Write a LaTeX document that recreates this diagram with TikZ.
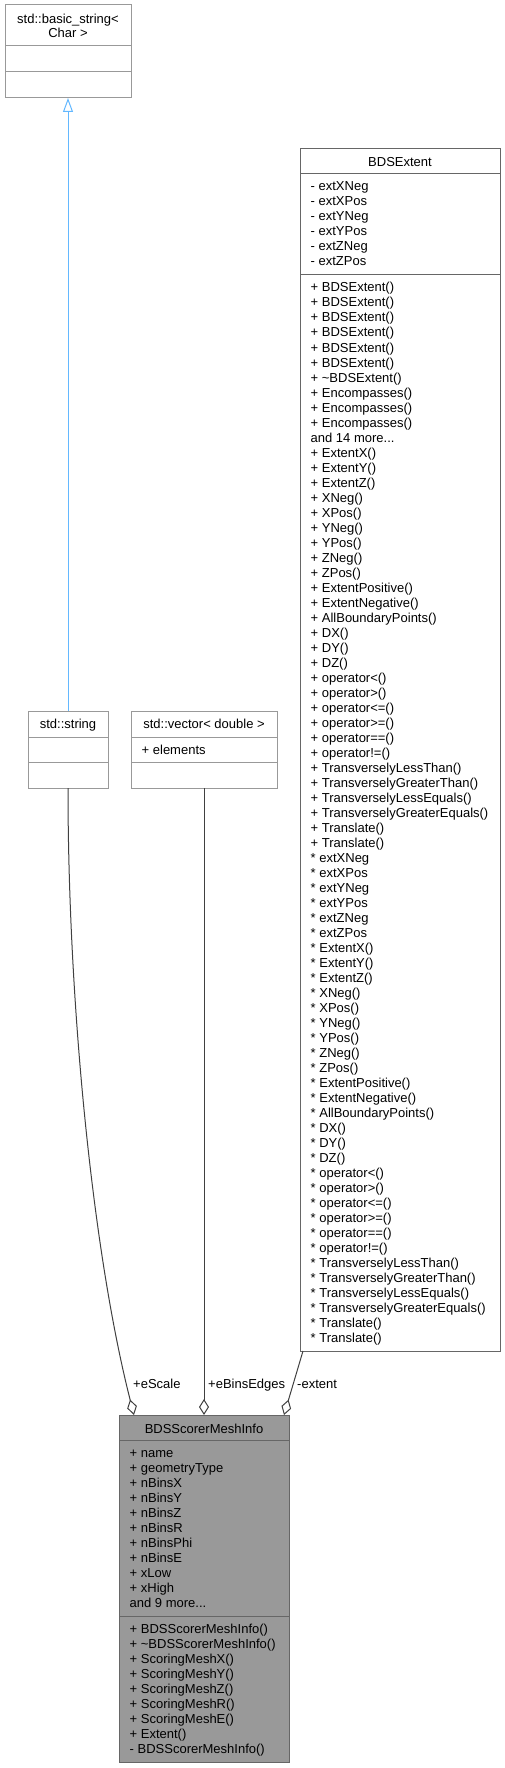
\documentclass[tikz,border=0pt]{standalone}
\usepackage{fontspec}
\setmainfont{Liberation Sans}
\usetikzlibrary{arrows.meta}
\definecolor{rahmen}{HTML}{666666}
\definecolor{rahmenhell}{HTML}{999999}
\definecolor{hauptfill}{HTML}{999999}
\definecolor{kante}{HTML}{404040}
\definecolor{erbe}{HTML}{63B8FF}
\tikzset{
	klasse/.style={draw=rahmen, fill=white, line width=1pt, inner sep=0pt,
	outer sep=0pt, anchor=north west},
	fremd/.style={klasse, draw=rahmenhell},
	haupt/.style={klasse, fill=hauptfill},
	zeile/.style={inner sep=0pt, anchor=base west},
	titel/.style={inner sep=0pt, anchor=base},
	trenner/.style={line width=1pt},
	aggregation/.style={draw=kante, line width=1pt,
	-{Diamond[length=16pt, width=10pt, fill=white]}},
	vererbung/.style={draw=erbe, line width=1pt,
	-{Triangle[length=14pt, width=10pt, fill=white]}}
}
\begin{document}
\begin{tikzpicture}[x=1pt, y=-1pt, font=\fontsize{13}{15}\selectfont]
	\useasboundingbox (0,0) rectangle (505,1768);

	% Basisklasse oben
	\node[fremd, minimum width=126pt, minimum height=93pt] (basis) at (5,5) {};
	\draw[trenner, rahmenhell] (5,46) -- (131,46);
	\draw[trenner, rahmenhell] (5,72) -- (131,72);
	\node[titel] (basis-t1) at (68,23.5) {std::basic\_string<};
	\node[titel] (basis-t2) at (68,38) {Char >};

	% std::string
	\node[fremd, minimum width=80pt, minimum height=77pt] (string) at (28,711) {};
	\draw[trenner, rahmenhell] (28,737) -- (108,737);
	\draw[trenner, rahmenhell] (28,762) -- (108,762);
	\node[titel] (string-t) at (68,728.5) {std::string};

	% std::vector
	\node[fremd, minimum width=146pt, minimum height=77pt] (vektor) at (131,711) {};
	\draw[trenner, rahmenhell] (131,737) -- (277,737);
	\draw[trenner, rahmenhell] (131,762) -- (277,762);
	\node[titel] (vektor-t) at (204,728.5) {std::vector< double >};
	\node[zeile] (vektor-a0) at (141.5,754.5) {+ elements};

	% BDSExtent
	\node[klasse, minimum width=200pt, minimum height=1202pt] (extent) at (300,149) {};
	\draw[trenner, rahmen] (300,174) -- (500,174);
	\draw[trenner, rahmen] (300,275) -- (500,275);
	\node[titel] (extent-t) at (400,167) {BDSExtent};
	% Attribute
	\foreach \eintrag [count=\i from 0] in {- extXNeg, - extXPos, - extYNeg,
		- extYPos, - extZNeg, - extZPos}
		\node[zeile] (extent-a\i) at (310.5,191+15*\i) {\eintrag};
	% Methoden
	\foreach \eintrag [count=\i from 0] in {+ BDSExtent(), + BDSExtent(),
		+ BDSExtent(), + BDSExtent(), + BDSExtent(), + BDSExtent(),
		+ \textasciitilde BDSExtent(), + Encompasses(), + Encompasses(),
		+ Encompasses(), {and 14 more.{}.{}.}, + ExtentX(), + ExtentY(), + ExtentZ(),
		+ XNeg(), + XPos(), + YNeg(), + YPos(), + ZNeg(), + ZPos(),
		+ ExtentPositive(), + ExtentNegative(), + AllBoundaryPoints(), + DX(),
		+ DY(), + DZ(), + operator<(), + operator>(), + operator<=(),
		+ operator>=(), + operator==(), + operator!=(),
		+ TransverselyLessThan(), + TransverselyGreaterThan(),
		+ TransverselyLessEquals(), + TransverselyGreaterEquals(),
		+ Translate(), + Translate(), * extXNeg, * extXPos, * extYNeg,
		* extYPos, * extZNeg, * extZPos, * ExtentX(), * ExtentY(), * ExtentZ(),
		* XNeg(), * XPos(), * YNeg(), * YPos(), * ZNeg(), * ZPos(),
		* ExtentPositive(), * ExtentNegative(), * AllBoundaryPoints(), * DX(),
		* DY(), * DZ(), * operator<(), * operator>(), * operator<=(),
		* operator>=(), * operator==(), * operator!=(),
		* TransverselyLessThan(), * TransverselyGreaterThan(),
		* TransverselyLessEquals(), * TransverselyGreaterEquals(),
		* Translate(), * Translate()}
		\node[zeile] (extent-m\i) at (310.5,292+15*\i) {\eintrag};

	% BDSScorerMeshInfo
	\node[haupt, minimum width=170pt, minimum height=347pt] (mesh) at (119,1415) {};
	\draw[trenner, rahmen] (119,1440) -- (289,1440);
	\draw[trenner, rahmen] (119,1616) -- (289,1616);
	\node[titel] (mesh-t) at (204,1433) {BDSScorerMeshInfo};
	% Attribute
	\foreach \eintrag [count=\i from 0] in {+ name, + geometryType, + nBinsX,
		+ nBinsY, + nBinsZ, + nBinsR, + nBinsPhi, + nBinsE, + xLow, + xHigh,
		{and 9 more.{}.{}.}}
		\node[zeile] (mesh-a\i) at (129.5,1457.5+15*\i) {\eintrag};
	% Methoden
	\foreach \eintrag [count=\i from 0] in {+ BDSScorerMeshInfo(),
		+ \textasciitilde BDSScorerMeshInfo(), + ScoringMeshX(), + ScoringMeshY(),
		+ ScoringMeshZ(), + ScoringMeshR(), + ScoringMeshE(), + Extent(),
		- BDSScorerMeshInfo()}
		\node[zeile] (mesh-m\i) at (129.5,1633+15*\i) {\eintrag};

	% Kanten
	\draw[vererbung] (string.north) -- (basis.south);
	\draw[aggregation] (string.south) .. controls (68,1000) and (92,1250)
	.. ([xshift=15pt]mesh.north west);
	\draw[aggregation] (vektor.south) -- (mesh.north);
	\draw[aggregation] ([xshift=3pt]extent.south west)
	-- ([xshift=-5pt]mesh.north east);

	% Kantenbeschriftungen
	\node[zeile] (l-escale) at (133,1388) {+eScale};
	\node[zeile] (l-ebins) at (208,1388) {+eBinsEdges};
	\node[zeile] (l-extent) at (297,1388) {-extent};
\end{tikzpicture}
\end{document}
